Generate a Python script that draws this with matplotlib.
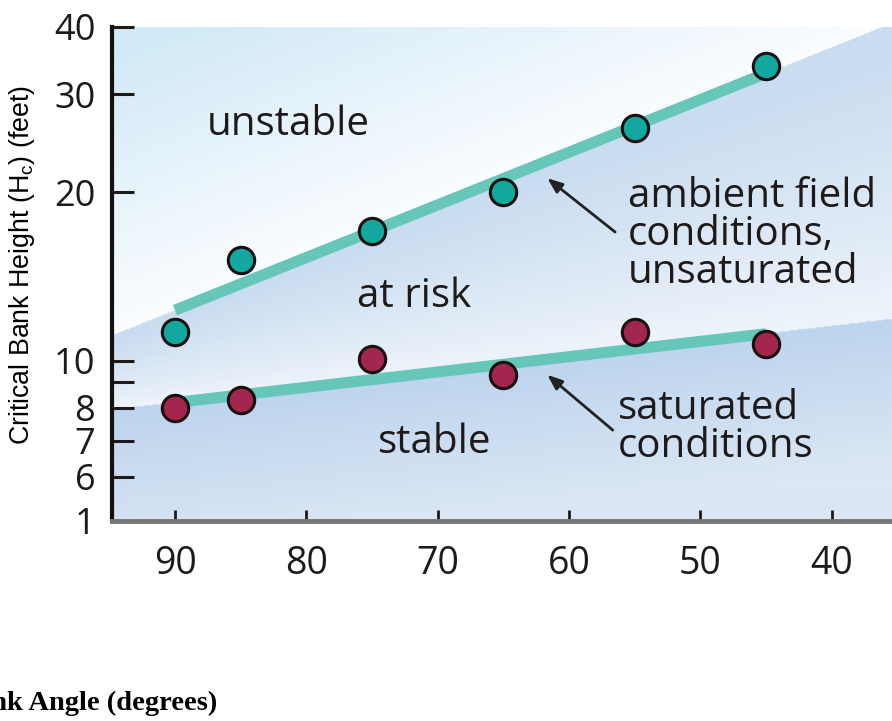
import matplotlib.pyplot as plt
import numpy as np
from matplotlib.colors import to_rgb

# measured bank angle (degrees) and critical bank height (feet)
angles = [90, 85, 75, 65, 55, 45]
unsat_height = [11.7, 16.0, 17.7, 20.0, 26.6, 34.2]
sat_height = [8.0, 8.3, 10.1, 9.3, 11.7, 11.0]

# trend lines, end points
trend_angles = [90, 45]
unsat_trend = [13.0, 33.1]
sat_trend = [8.2, 11.6]

x_ticks = [90, 80, 70, 60, 50, 40]
y_ticks = [1, 6, 7, 8, 9, 10, 20, 30, 40]
y_ticklabels = ["1", "6", "7", "8", "", "10", "20", "30", "40"]

# the vertical axis of the original drawing is neither linear nor log,
# so map tick values to the spacing used there
y_tick_pos = [0, 44, 80, 113, 139, 160, 328, 426, 493]


def y_forward(v):
    return np.interp(v, y_ticks, y_tick_pos)


def y_inverse(p):
    return np.interp(p, y_tick_pos, y_ticks)


TEXT_FONT = ["Open Sans", "DejaVu Sans"]
TEXT_SIZE = 29

fig = plt.figure(figsize=(8.92, 7.21), dpi=100)
ax = fig.add_axes([112 / 892, 200 / 721, 780 / 892, 494 / 721])
ax.set_yscale("function", functions=(y_forward, y_inverse))
ax.set_xlim(94.8, 35.4)
ax.set_ylim(1, 40)


def line_in_axes(xs, ys):
    # end points of a trend line in axes fraction, for the shaded bands
    pts = ax.transAxes.inverted().transform(ax.transData.transform(np.column_stack([xs, ys])))
    slope = (pts[1, 1] - pts[0, 1]) / (pts[1, 0] - pts[0, 0])
    return lambda u: pts[0, 1] + slope * (u - pts[0, 0])


upper = line_in_axes(trend_angles, unsat_trend)
lower = line_in_axes(trend_angles, sat_trend)

# shaded background: unstable / at risk / stable bands
nv, nu = 500, 780
u = np.linspace(0, 1, nu)
v = np.linspace(1, 0, nv)[:, None]
vu = upper(u)[None, :]
vl = lower(u)[None, :]


def blend(c0, c1, t):
    c0, c1 = np.array(to_rgb(c0)), np.array(to_rgb(c1))
    t = np.clip(t, 0, 1)[..., None]
    return c0 * (1 - t) + c1 * t


img = np.ones((nv, nu, 3))
top = v >= vu
mid = (v < vu) & (v >= vl)
bot = v < vl
t_top = np.broadcast_to((v - vu) / 0.55, (nv, nu))
t_mid = np.broadcast_to((vu - v) / np.maximum(vu - vl, 1e-6), (nv, nu))
t_bot = np.broadcast_to((vl - v) / 0.3, (nv, nu))
img[top] = blend("#fbfdff", "#d3eaf7", t_top)[top]
img[mid] = blend("#c9dcf0", "#eef4fb", t_mid ** 1.3)[mid]
img[bot] = blend("#bdd4ee", "#dbe7f4", t_bot)[bot]
ax.imshow(img, extent=(0, 1, 0, 1), transform=ax.transAxes, aspect="auto", zorder=0)

# trend lines and data points
ax.plot(trend_angles, unsat_trend, color="#66c7b9", lw=8, solid_capstyle="butt", zorder=2)
ax.plot(trend_angles, sat_trend, color="#66c7b9", lw=8, solid_capstyle="butt", zorder=2)
ax.plot(angles, unsat_height, "o", color="#12a8a0", ms=19, mec="#1a1010", mew=2.2, zorder=3)
ax.plot(angles, sat_height, "o", color="#a3264f", ms=19, mec="#1a1010", mew=2.2, zorder=3)

# region labels
ax.text(0.122, 0.781, "unstable", transform=ax.transAxes, fontsize=TEXT_SIZE,
        family=TEXT_FONT, color="#1e1a1a", va="baseline")
ax.text(0.314, 0.433, "at risk", transform=ax.transAxes, fontsize=TEXT_SIZE,
        family=TEXT_FONT, color="#1e1a1a", va="baseline")
ax.text(0.341, 0.138, "stable", transform=ax.transAxes, fontsize=TEXT_SIZE,
        family=TEXT_FONT, color="#1e1a1a", va="baseline")

ax.annotate("ambient field\nconditions,\nunsaturated",
            xy=(0.558, 0.694), xytext=(0.661, 0.698),
            xycoords="axes fraction", textcoords="axes fraction",
            fontsize=TEXT_SIZE, family=TEXT_FONT, color="#1e1a1a",
            va="top", ha="left", linespacing=0.93)
ax.annotate("", xy=(0.558, 0.694), xytext=(0.645, 0.585),
            xycoords="axes fraction", textcoords="axes fraction",
            arrowprops=dict(arrowstyle="-|>,head_length=0.9,head_width=0.35",
                            color="#222222", lw=2, shrinkA=0, shrinkB=0))

ax.annotate("saturated\nconditions",
            xy=(0.558, 0.296), xytext=(0.648, 0.268),
            xycoords="axes fraction", textcoords="axes fraction",
            fontsize=TEXT_SIZE, family=TEXT_FONT, color="#1e1a1a",
            va="top", ha="left", linespacing=0.93)
ax.annotate("", xy=(0.558, 0.296), xytext=(0.642, 0.184),
            xycoords="axes fraction", textcoords="axes fraction",
            arrowprops=dict(arrowstyle="-|>,head_length=0.9,head_width=0.35",
                            color="#222222", lw=2, shrinkA=0, shrinkB=0))

# axes styling
ax.set_xticks(x_ticks)
ax.set_yticks(y_ticks)
ax.set_yticklabels(y_ticklabels)
ax.minorticks_off()
ax.tick_params(axis="y", direction="in", length=16, width=2.2, pad=12,
               labelsize=26, colors="#1e1a1a")
ax.tick_params(axis="x", direction="in", length=8, width=2, pad=17.5,
               labelsize=27, colors="#1e1a1a")
for lab in ax.get_xticklabels() + ax.get_yticklabels():
    lab.set_family(TEXT_FONT)

ax.spines["top"].set_visible(False)
ax.spines["right"].set_visible(False)
ax.spines["left"].set_linewidth(3)
ax.spines["left"].set_color("#151010")
ax.spines["bottom"].set_linewidth(3.5)
ax.spines["bottom"].set_color("#777777")

fig.text(22 / 892, 1 - 265 / 721, "Critical Bank Height (H$_\\mathregular{c}$) (feet)",
         rotation=90, ha="center", va="center", fontsize=19.3, family="Liberation Sans")
# the source image crops the start of this label at the left edge
fig.text(217 / 892, 1 - 710 / 721, "Bank Angle (degrees)", ha="right", va="baseline",
         fontsize=20.5, fontweight="bold", family="Liberation Serif")

fig.savefig("out.png", dpi=100)
